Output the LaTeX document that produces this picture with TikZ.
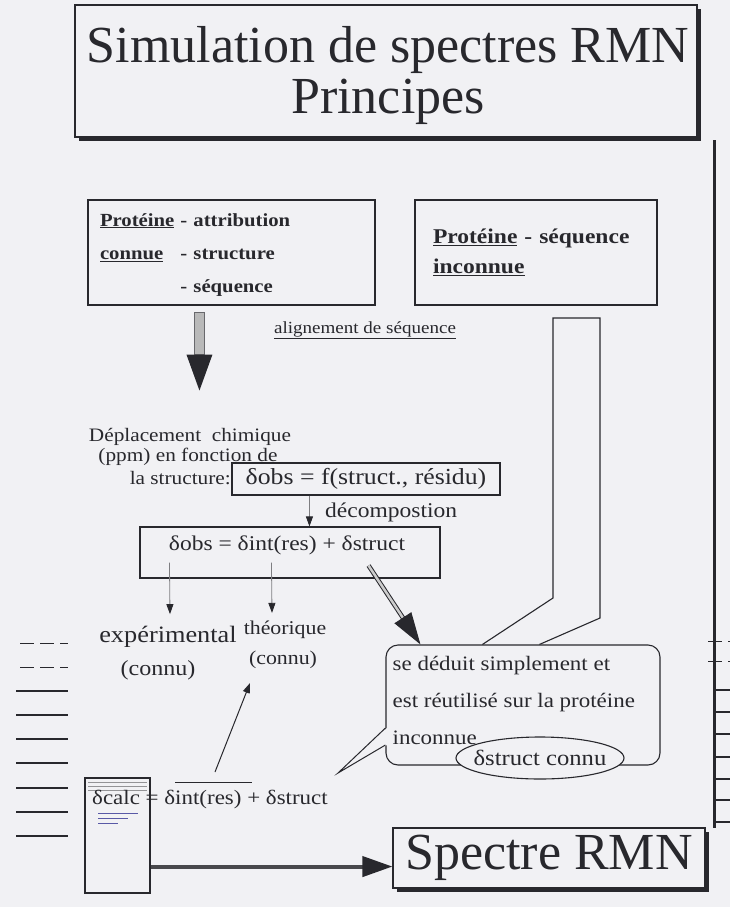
\documentclass[tikz,border=0pt]{standalone}
\usepackage{fontspec}
\setmainfont{Liberation Serif}
\newfontfamily\bodyfont[FakeStretch=1.12]{Liberation Serif}
\usetikzlibrary{arrows.meta,shapes.geometric,calc,shadows}
\definecolor{paper}{RGB}{241,241,244}
\definecolor{ink}{RGB}{40,40,45}
\newcommand{\fs}[2]{\bodyfont\fontsize{#1}{#2}\selectfont}
\begin{document}
\begin{tikzpicture}[x=1pt,y=-1pt,
  frame/.style={draw=ink, line width=1.1pt, inner sep=0pt},
  shadowbox/.style={frame, fill=paper, drop shadow={shadow xshift=4pt, shadow yshift=-4pt, fill=ink, opacity=1}},
  bigtxt/.style={font=\fontsize{52}{56}\selectfont, text=ink, inner sep=0pt},
  bodytxt/.style={font=\fs{19}{21}, text=ink, inner sep=0pt},
  thinarrow/.style={draw=ink!60, line width=0.8pt, -{Triangle[length=10pt,width=7pt,color=ink]}},
  sideline/.style={draw=ink, line width=1.2pt}
]
\useasboundingbox (0,0) rectangle (730,907);
\fill[paper] (0,0) rectangle (730,907);

% title
\node[shadowbox, minimum width=622pt, minimum height=132pt] (title) at (386,71) {};
\node[bigtxt] (t1) at (388,50) {Simulation de spectres RMN};
\node[bigtxt] (t2) at (388,102) {Principes};
\draw[line width=3pt, ink] (714,140) -- (714,828);

% side lines
\foreach \yy in {643,667} {\draw[sideline, line width=0.7pt, dash pattern=on 14pt off 6pt] (20,\yy) -- (68,\yy);}
\foreach \yy in {691,715,739,763,788,812,836} {\draw[sideline] (16,\yy) -- (68,\yy);}
\foreach \yy in {641,661} {\draw[sideline, line width=0.7pt, dash pattern=on 14pt off 6pt] (708,\yy) -- (730,\yy);}
\foreach \yy in {690,712,734,757,779,800,822} {\draw[sideline] (716,\yy) -- (730,\yy);}

% box A
\node[frame, minimum width=287pt, minimum height=105pt, text width=263pt, align=left, inner xsep=12pt, text=ink, font=\fs{18.5}{33}\bfseries] (boxA) at (231.5,252.5)
 {\begin{tabular}{@{}l@{\hspace{6pt}}l@{}}\underline{Protéine} & - attribution\\ \underline{connue} & - structure\\ & - séquence\end{tabular}};
% box B
\node[frame, minimum width=242pt, minimum height=105pt, text width=206pt, align=left, inner xsep=18pt, text=ink, font=\fs{21}{30}\bfseries] (boxB) at (536,252.5)
 {\underline{Protéine} - séquence\\ \underline{inconnue}};

\node[bodytxt, font=\fs{17}{20}] (align) at (365,330) {\underline{alignement de séquence}};

% big down arrow
\coordinate (bigtop) at ($(boxA.south west)+(112,7)$);
\coordinate (bigtip) at ($(boxA.south west)+(112,85)$);
\fill[gray!55, draw=ink!70, line width=0.6pt] ($(bigtop)+(-5,0)$) rectangle ($(bigtip)+(5,-36)$);
\fill[ink] ($(bigtip)+(-13,-36)$) -- ($(bigtip)+(13,-36)$) -- (bigtip) -- cycle;

% channel
\coordinate (chL1) at (553,318); \coordinate (chR1) at (600,318);
\coordinate (chL2) at (553,598); \coordinate (chR2) at (600,618);

% deplacement text
\node[bodytxt] (dep1) at (190,437) {Déplacement\ \ chimique};
\node[bodytxt] (dep2) at (188,457) {(ppm) en fonction de};
\node[bodytxt, anchor=east] (dep3) at (231,478) {la structure:};

\node[frame, minimum width=268pt, minimum height=32pt, bodytxt, font=\fs{23}{24}] (obs1) at (366,479) {δobs = f(struct., résidu)};

\node[frame, minimum width=300pt, minimum height=51pt] (obs2) at (290,552.5) {};
\node[bodytxt, font=\fs{21}{22}] (obs2t) at (287,545) {δobs = δint(res) + δstruct};

\draw[thinarrow] ($(obs1.south west)+(78,0)$) -- ($(obs2.north west)+(170,0)$);
\node[bodytxt, font=\fs{21}{22}, anchor=west] (decomp) at (325,512) {décompostion};

\node[bodytxt, font=\fs{23.5}{24}] (exp1) at (168,637) {expérimental};
\node[bodytxt, font=\fs{21.5}{24}] (exp2) at (158,670) {(connu)};
\node[bodytxt, font=\fs{19.5}{24}] (theo1) at (285,630) {théorique};
\node[bodytxt, font=\fs{19.5}{24}] (theo2) at (283,660) {(connu)};

\draw[thinarrow] ($(obs2.south west)+(30,-16)$) -- ($(exp1.north)+(2,-12)$);
\draw[thinarrow] ($(obs2.south west)+(132,-16)$) -- ($(theo1.north)+(-13,-8)$);

% bubble
\node[frame, rounded corners=12pt, minimum width=274pt, minimum height=120pt] (bubble) at (523,705) {};
\node[bodytxt, font=\fs{20.5}{37}, align=left, anchor=north west] (bubbletxt) at ($(bubble.north west)+(7,12)$)
 {se déduit simplement et\\ est réutilisé sur la protéine\\ inconnue};
\coordinate (tailtip) at (338,773);
\fill[paper] ($(bubble.west)+(1.5,23)$) -- (tailtip) -- ($(bubble.west)+(1.5,40)$) -- cycle;
\draw[ink, line width=1pt] ($(bubble.west)+(0,23)$) -- (tailtip) -- ($(bubble.west)+(0,40)$);
\node[draw=ink, line width=1.1pt, fill=paper, ellipse, minimum width=168pt, minimum height=42pt, inner sep=0pt, bodytxt, font=\fs{22}{24}] (connu) at (540,758) {\makebox[0pt]{δstruct connu}};

% channel draw
\draw[ink, line width=1.1pt] ($(bubble.north west)+(97,0)$) -- (chL2) -- (chL1) -- (chR1) -- (chR2) -- ($(bubble.north west)+(154,0)$);

% double arrow to bubble
\draw[ink, line width=1pt, double=gray!40, double distance=2.5pt, -{Triangle[length=32pt,width=20pt,color=ink]}] ($(obs2.south east)+(-72,-13)$) -- ($(bubble.north west)+(35,0)$);

% calc
\node[frame, minimum width=65pt, minimum height=115pt] (doc) at (117.5,835.5) {};
\foreach \yy in {783,787,791} {\draw[ink!50, line width=1pt] ($(doc.north west)+(4,\yy-778)$) -- ($(doc.north east)+(-4,\yy-778)$);}
\foreach \yy/\ww in {814/40,819/30,824/20} {\draw[blue!30!gray, line width=0.7pt] ($(doc.north west)+(14,\yy-778)$) -- ++(\ww,0);}
\node[bodytxt, anchor=west, font=\fs{20.5}{22}] (calc) at (92,800) {δcalc = δint(res) + δstruct};
\draw[ink, line width=1pt] ($(calc.west)+(83,-18)$) -- ($(calc.west)+(160,-18)$);
\draw[ink, line width=1pt, -{Triangle[length=10pt,width=7pt]}] ($(calc.west)+(123,-28)$) -- ($(theo2.south)+(-33,14)$);

% spectre
\node[shadowbox, minimum width=312pt, minimum height=60pt, bigtxt] (spectre) at (549,858) {Spectre RMN};
\draw[ink!85, line width=4pt, -{Triangle[length=30pt,width=20pt,color=ink]}] ($(doc.south east)+(0,-27)$) -- (spectre.west |- {$(doc.south east)+(0,-27)$});
\end{tikzpicture}
\end{document}
